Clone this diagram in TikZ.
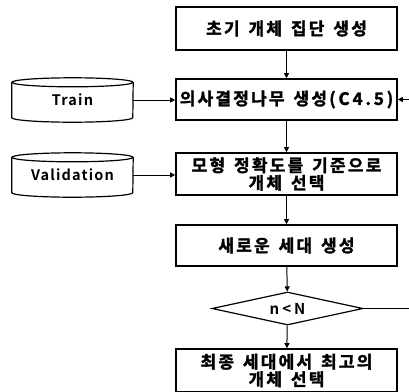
\documentclass[tikz,border=0pt]{standalone}
\usepackage{fontspec}
\setmainfont{Noto Sans CJK KR}[LetterSpace=17, BoldFont={Noto Sans CJK KR Bold}, BoldFeatures={FakeBold=1.8}]
\newfontfamily\lat{Noto Sans CJK KR}[LetterSpace=8, BoldFont={Noto Sans CJK KR Bold}]
\newfontfamily\latn{Noto Sans CJK KR}[LetterSpace=20, BoldFont={Noto Sans CJK KR Bold}]
\def\spw#1{\spwi#1\relax}
\def\spx#1{\spwi#1\relax\unkern}
\def\spwi#1{\ifx#1\relax\else#1\kern2.2pt\relax\expandafter\spwi\fi}
\usetikzlibrary{arrows.meta,shapes.geometric}
\begin{document}
\begin{tikzpicture}[x=1pt,y=-1pt,
  box/.style={draw, line width=1.6pt, minimum width=221pt, align=center, inner sep=0pt,
    font=\bfseries\fontsize{17}{17.5}\selectfont},
  dia/.style={draw, shape=diamond, line width=1.2pt, minimum width=151pt, minimum height=33pt,
    aspect=4.6, inner sep=0pt, font=\latn\bfseries\fontsize{15}{16}\selectfont},
  db/.style={minimum width=121pt, minimum height=44pt, inner sep=0pt,
    font=\lat\bfseries\fontsize{14.5}{15}\selectfont},
  cyl/.style={line width=1.2pt},
  arr/.style={-{Triangle[length=5pt,width=5pt]}, line width=1pt}]
\useasboundingbox (0,0) rectangle (409,391);
\node[box, minimum height=43pt] (b1) at (286.5,28.5) {\spw{초기} \spw{개체} \spw{집단} \spx{생성}};
\node[box, minimum height=41pt] (b2) at (286.5,99.5) {\spw{의사결정나무} \spw{생성}(C4.5)};
\node[box, minimum height=42pt] (b3) at (286.5,174) {\spw{모형} \spw{정확도를} \spx{기준으로}\\\spw{개체} \spx{선택}};
\node[box, minimum height=41pt] (b4) at (286.5,245.5) {\spw{새로운} \spw{세대} \spx{생성}};
\node[dia] (d) at (287.5,308.5) {n<N};
\node[box, minimum height=43pt] (b5) at (286.5,370.5) {\spw{최종} \spw{세대에서} \spx{최고의}\\\spw{개체} \spx{선택}};
% cylinders
\node[db] (tr) at (72.5,100) {Train};
\node[db] (va) at (72.5,175) {Validation};
\foreach \c in {tr,va}{
  \draw[cyl] ([yshift=-4.5pt]\c.north west) -- ([yshift=4.5pt]\c.south west)
    arc[start angle=180, end angle=360, x radius=60.5pt, y radius=4.5pt]
    -- ([yshift=-4.5pt]\c.north east);
  \draw[cyl] ([yshift=-4.5pt]\c.north) ellipse[x radius=60.5pt, y radius=4.5pt];
}
\coordinate (r1) at (413,308.5);
\coordinate (r2) at (413,99.5);
\draw[arr] (b1) -- (b2);
\draw[arr] (b2) -- (b3);
\draw[arr] (b3) -- (b4);
\draw[arr] (b4) -- (d);
\draw[arr] (d) -- (b5);
\draw[arr] (tr.east) -- (tr.east -| b2.west);
\draw[arr] (va.east) -- (va.east -| b3.west);
\draw[line width=1pt] (d.east) -- (r1) -- (r2);
\draw[arr] (r2) -- (b2.east);
\end{tikzpicture}
\end{document}
